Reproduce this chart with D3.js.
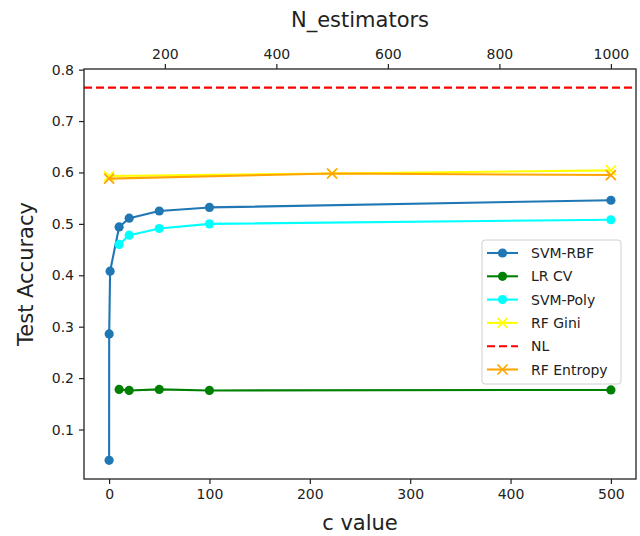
<!DOCTYPE html>
<html>
<head>
<meta charset="utf-8">
<script src="https://cdn.jsdelivr.net/npm/d3@7"></script>
<style>
  html, body { margin: 0; padding: 0; background: #fff; }
  svg { display: block; font-family: "DejaVu Sans", sans-serif; }
</style>
</head>
<body>
<svg id="chart" width="640" height="536"></svg>
<script>
// Regularisation strengths (bottom axis) and forest sizes (top axis)
const cValuesRbf = [0.01, 0.1, 1, 10, 20, 50, 100, 500];
const svmRbf     = [0.040, 0.286, 0.408, 0.494, 0.511, 0.525, 0.532, 0.546];

const cValues    = [10, 20, 50, 100, 500];
const lrCv       = [0.178, 0.176, 0.178, 0.176, 0.177];
const svmPoly    = [0.460, 0.478, 0.491, 0.500, 0.508];

const nEstimators = [100, 500, 1000];
const rfGini      = [0.593, 0.598, 0.604];
const rfEntropy   = [0.588, 0.598, 0.595];

const nlAccuracy = 0.765;

const yTicks      = [0.1, 0.2, 0.3, 0.4, 0.5, 0.6, 0.7, 0.8];
const cTicks      = [0, 100, 200, 300, 400, 500];
const nTicks      = [200, 400, 600, 800, 1000];

const svg = d3.select("#chart");
const plot = { left: 84, right: 636, top: 69, bottom: 479 };

const x = d3.scaleLinear().domain([-25, 525]).range([plot.left, plot.right]);
const xTop = d3.scaleLinear().domain([55, 1045]).range([plot.left, plot.right]);
const y = d3.scaleLinear().domain([0.00375, 0.80125]).range([plot.bottom, plot.top]);

const fmt1 = d3.format(".1f");
const fmtInt = d3.format("d");

// Axes
const axisStyle = g => {
  g.selectAll(".domain").remove();
  g.selectAll(".tick line").attr("stroke", "#222").attr("stroke-width", 1.2);
  g.selectAll(".tick text").attr("fill", "#222").attr("font-size", 14)
    .attr("font-family", "DejaVu Sans, sans-serif");
};

svg.append("g")
  .attr("transform", `translate(0,${plot.bottom})`)
  .call(d3.axisBottom(x).tickValues(cTicks).tickFormat(fmtInt).tickSize(5).tickPadding(5))
  .call(axisStyle);

svg.append("g")
  .attr("transform", `translate(0,${plot.top})`)
  .call(d3.axisTop(xTop).tickValues(nTicks).tickFormat(fmtInt).tickSize(5).tickPadding(5))
  .call(axisStyle);

svg.append("g")
  .attr("transform", `translate(${plot.left},0)`)
  .call(d3.axisLeft(y).tickValues(yTicks).tickFormat(fmt1).tickSize(5).tickPadding(5))
  .call(axisStyle);

// Axis titles
svg.append("text").attr("x", (plot.left + plot.right) / 2).attr("y", 530)
  .attr("text-anchor", "middle").attr("font-size", 21).attr("fill", "#222").text("c value");
svg.append("text").attr("x", (plot.left + plot.right) / 2).attr("y", 27)
  .attr("text-anchor", "middle").attr("font-size", 21).attr("fill", "#222").text("N_estimators");
svg.append("text")
  .attr("transform", `translate(33,${(plot.top + plot.bottom) / 2}) rotate(-90)`)
  .attr("text-anchor", "middle").attr("font-size", 21).attr("fill", "#222").text("Test Accuracy");

// Series
const clipId = "plot-clip";
svg.append("clipPath").attr("id", clipId).append("rect")
  .attr("x", plot.left).attr("y", plot.top)
  .attr("width", plot.right - plot.left).attr("height", plot.bottom - plot.top);
const layer = svg.append("g");

const series = [
  { name: "SVM-RBF", color: "#1f77b4", xs: cValuesRbf, ys: svmRbf, sx: x, marker: "o" },
  { name: "LR CV", color: "#008000", xs: cValues, ys: lrCv, sx: x, marker: "o" },
  { name: "SVM-Poly", color: "#00ffff", xs: cValues, ys: svmPoly, sx: x, marker: "o" },
  { name: "RF Gini", color: "#ffff00", xs: nEstimators, ys: rfGini, sx: xTop, marker: "x" },
  { name: "NL", color: "#ff0000", dashed: true },
  { name: "RF Entropy", color: "#ffa500", xs: nEstimators, ys: rfEntropy, sx: xTop, marker: "x" }
];

const lineWidth = 2.1;
const crossHalf = 5;

function drawMarker(g, cx, cy, kind, color) {
  if (kind === "o") {
    g.append("circle").attr("cx", cx).attr("cy", cy).attr("r", 4.6).attr("fill", color);
  } else if (kind === "x") {
    g.append("path")
      .attr("d", `M${cx - crossHalf},${cy - crossHalf}L${cx + crossHalf},${cy + crossHalf}` +
                 `M${cx - crossHalf},${cy + crossHalf}L${cx + crossHalf},${cy - crossHalf}`)
      .attr("stroke", color).attr("stroke-width", 1.7).attr("fill", "none");
  }
}

series.forEach(s => {
  const g = layer.append("g").attr("clip-path", `url(#${clipId})`);
  if (s.dashed) {
    g.append("line")
      .attr("x1", plot.left).attr("x2", plot.right)
      .attr("y1", y(nlAccuracy)).attr("y2", y(nlAccuracy))
      .attr("stroke", s.color).attr("stroke-width", lineWidth)
      .attr("stroke-dasharray", "8,4");
    return;
  }
  const pts = s.xs.map((v, i) => [s.sx(v), y(s.ys[i])]);
  g.append("path").attr("d", d3.line()(pts))
    .attr("fill", "none").attr("stroke", s.color).attr("stroke-width", lineWidth)
    .attr("stroke-linejoin", "round");
  pts.forEach(p => drawMarker(g, p[0], p[1], s.marker, s.color));
});

// Frame
svg.append("rect")
  .attr("x", plot.left).attr("y", plot.top)
  .attr("width", plot.right - plot.left).attr("height", plot.bottom - plot.top)
  .attr("fill", "none").attr("stroke", "#222").attr("stroke-width", 1.3);

// Legend
const legend = svg.append("g").attr("transform", "translate(482,240)");
legend.append("rect").attr("width", 139).attr("height", 144).attr("rx", 3)
  .attr("fill", "#fff").attr("fill-opacity", 0.85)
  .attr("stroke", "#d0d0d0").attr("stroke-width", 1);
series.forEach((s, i) => {
  const cy = 13 + i * 23.3;
  const item = legend.append("g");
  item.append("line").attr("x1", 5).attr("x2", 36).attr("y1", cy).attr("y2", cy)
    .attr("stroke", s.color).attr("stroke-width", lineWidth)
    .attr("stroke-dasharray", s.dashed ? "8,4" : null);
  if (!s.dashed) drawMarker(item, 20.5, cy, s.marker, s.color);
  item.append("text").attr("x", 49).attr("y", cy + 5).attr("font-size", 14)
    .attr("fill", "#222").text(s.name);
});
</script>
</body>
</html>
